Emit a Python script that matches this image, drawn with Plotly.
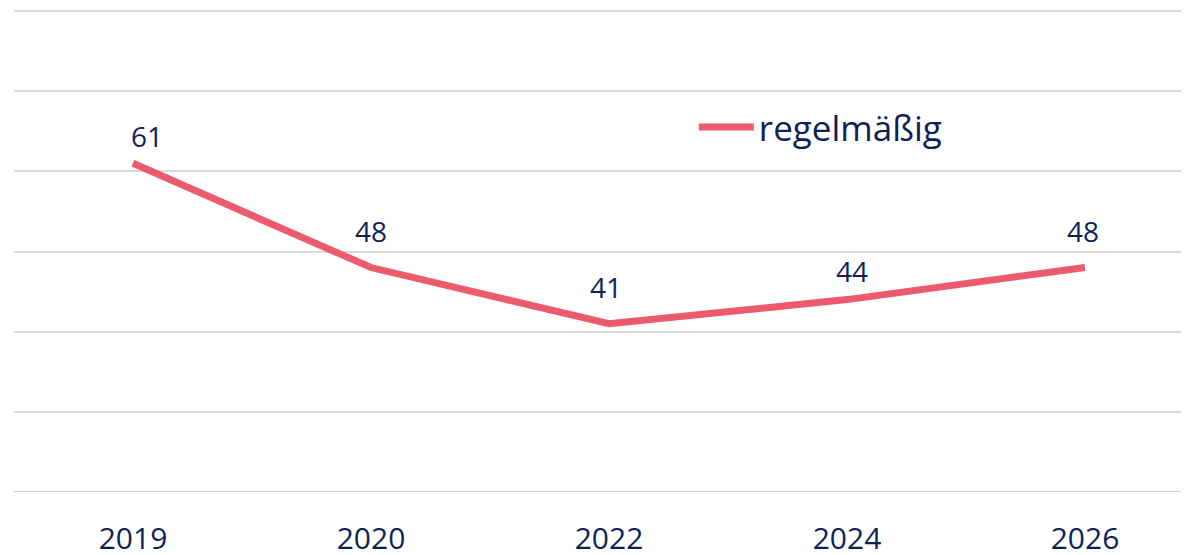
import plotly.graph_objects as go

years = ["2019", "2020", "2022", "2024", "2026"]
regelmaessig = [61, 48, 41, 44, 48]
series_name = "regelmäßig"

# label offsets in pixels (styling only)
label_dx = [14, 0, -3, 5, -2]
label_dy = [27, 37, 37, 29, 37]

LINE = "#ec5a6e"
TEXT = "#0f1f55"
FONT = "Open Sans"

fig = go.Figure()
fig.add_trace(go.Scatter(
    x=years, y=regelmaessig, mode="lines", name=series_name,
    line=dict(color=LINE, width=7),
))

for i, (y, dx, dy) in enumerate(zip(regelmaessig, label_dx, label_dy)):
    fig.add_annotation(x=i, y=y, xref="x", yref="y", text=str(y),
                       showarrow=False, xshift=dx, yshift=dy,
                       font=dict(family=FONT, size=28, color=TEXT))

# the page body has an 8px margin, so the figure is sized to fill the window
fig.update_layout(
    width=1181, height=547,
    margin=dict(l=6, r=0, t=1, b=63, autoexpand=False),
    paper_bgcolor="white", plot_bgcolor="white",
    font=dict(family=FONT, size=28, color=TEXT),
    showlegend=True,
    legend=dict(x=0.5786, y=0.755, xanchor="left", yanchor="middle",
                bgcolor="rgba(0,0,0,0)", font=dict(size=35, color=TEXT),
                itemwidth=55),
    xaxis=dict(type="category", range=[-0.5, 4.437], showgrid=False,
               showline=False, zeroline=False, ticks="", automargin=False,
               ticklabelstandoff=26,
               tickfont=dict(family=FONT, size=30, color=TEXT)),
    yaxis=dict(range=[20, 80.25], dtick=10, tick0=20, showgrid=True,
               gridcolor="#d9d9d9", gridwidth=2, showticklabels=False,
               zeroline=False, showline=False, ticks="", automargin=False),
)
fig.add_hline(y=20, line=dict(color="#c7cff5", width=2), layer="above")

fig.write_html("out.html")
